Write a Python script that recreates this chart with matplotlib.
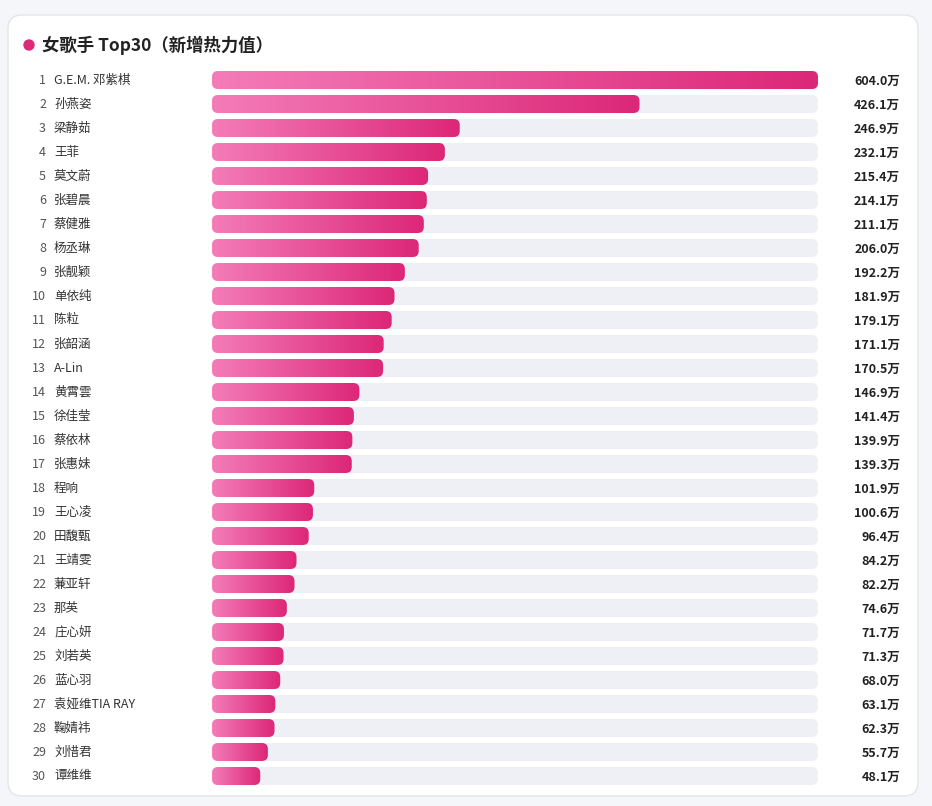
import numpy as np
import matplotlib
matplotlib.use("Agg")
import matplotlib.pyplot as plt
from matplotlib.patches import FancyBboxPatch, Circle
from matplotlib.colors import LinearSegmentedColormap

plt.rcParams['font.family'] = ['Noto Sans CJK SC', 'DejaVu Sans']

# Données
names = ["G.E.M. 邓紫棋", "孙燕姿", "梁静茹", "王菲", "莫文蔚", "张碧晨", "蔡健雅", "杨丞琳",
         "张靓颖", "单依纯", "陈粒", "张韶涵", "A-Lin", "黄霄雲", "徐佳莹", "蔡依林", "张惠妹",
         "程响", "王心凌", "田馥甄", "王靖雯", "蒹亚轩", "那英", "庄心妍", "刘若英", "蓝心羽",
         "袁娅维TIA RAY", "鞠婧祎", "刘惜君", "谭维维"]
values = [604.0, 426.1, 246.9, 232.1, 215.4, 214.1, 211.1, 206.0, 192.2, 181.9, 179.1,
          171.1, 170.5, 146.9, 141.4, 139.9, 139.3, 101.9, 100.6, 96.4, 84.2, 82.2, 74.6,
          71.7, 71.3, 68.0, 63.1, 62.3, 55.7, 48.1]
title = "女歌手 Top30（新增热力值）"

W, H = 932, 806
fig = plt.figure(figsize=(W / 100, H / 100), dpi=100)
fig.patch.set_facecolor("#f5f6fa")
ax = fig.add_axes([0, 0, 1, 1])
ax.set_xlim(0, W)
ax.set_ylim(H, 0)
ax.axis("off")

# Carte blanche
ax.add_patch(FancyBboxPatch((8, 15), 910, 781, boxstyle="round,pad=0,rounding_size=14",
                            facecolor="white", edgecolor="#e3e5ea", lw=1))
ax.add_patch(Circle((29, 45), 5, color="#dc2a7a"))
ax.text(42, 45, title, fontsize=12.5, fontweight="bold", va="center", color="#222")

cmap = LinearSegmentedColormap.from_list("pk", ["#f47cb8", "#dc2777"])
grad = np.linspace(0, 1, 256).reshape(1, -1)

x0, track_w = 212, 606
vmax = max(values)
y_top, step, bh = 80, 24, 18

for i, (name, v) in enumerate(zip(names, values)):
    y = y_top + i * step
    ax.text(46, y, str(i + 1), ha="right", va="center", fontsize=9, color="#555")
    ax.text(54, y, name, ha="left", va="center", fontsize=9, color="#333")
    ax.add_patch(FancyBboxPatch((x0, y - bh / 2), track_w, bh,
                                boxstyle="round,pad=0,rounding_size=6",
                                facecolor="#eff0f5", edgecolor="none"))
    bw = v / vmax * track_w
    patch = FancyBboxPatch((x0, y - bh / 2), bw, bh, boxstyle="round,pad=0,rounding_size=6",
                           facecolor="none", edgecolor="none")
    ax.add_patch(patch)
    im = ax.imshow(grad, cmap=cmap, aspect="auto",
                   extent=(x0, x0 + bw, y + bh / 2, y - bh / 2), zorder=3)
    im.set_clip_path(patch)
    ax.text(900, y + 1, f"{v:.1f}万", ha="right", va="center", fontsize=9,
            fontweight="bold", color="#222")

ax.set_xlim(0, W)
ax.set_ylim(H, 0)
fig.savefig("out.png", dpi=100, facecolor=fig.get_facecolor())
